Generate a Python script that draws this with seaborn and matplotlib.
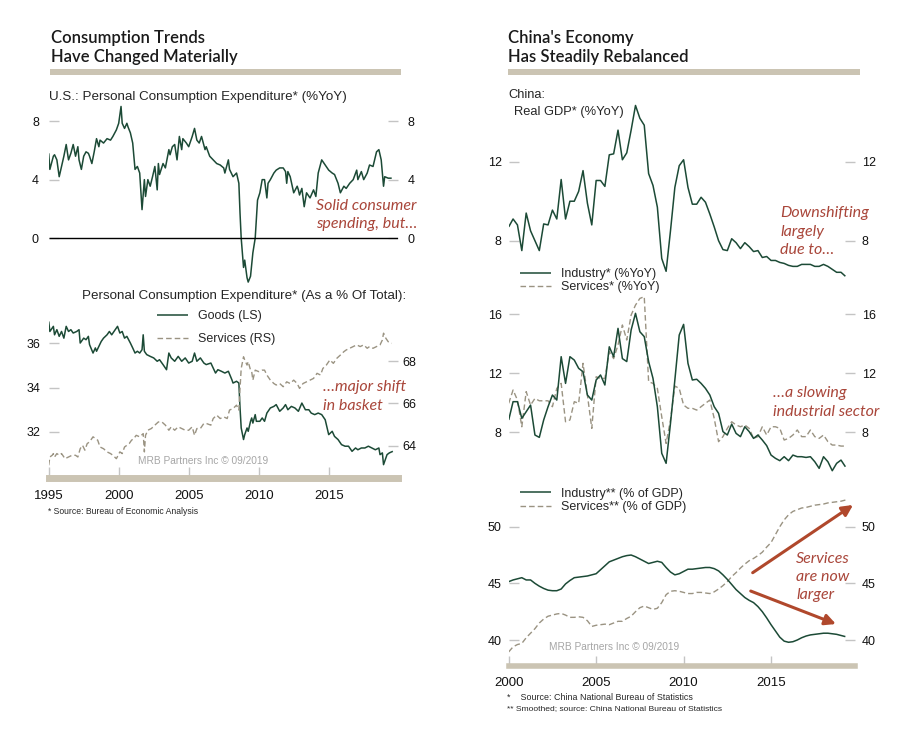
import numpy as np
import pandas as pd
import matplotlib.pyplot as plt
import seaborn as sns

W, H = 911, 749
GREEN = '#1c4a36'
TAN = '#9a9382'
BAR = '#cbc4b3'
TICK = '#c4c4c4'
RED = '#a9463a'
ARROW = '#b0482c'
WMARK = '#a6a6a6'

# ---- U.S. PCE %YoY (months since Jan 1995, value)
pce_month = [0, 1, 4, 5, 7, 9, 11, 13, 15, 17, 19, 21, 23, 25, 26, 28, 30, 32, 34, 35,
             37, 39, 41, 43, 44, 47, 50, 53, 55, 58, 60, 62, 63, 65, 67, 68, 70, 72, 74, 76,
             78, 80, 82, 83, 85, 87, 89, 91, 93, 94, 95, 98, 100, 103, 104, 106, 108, 110, 112, 114,
             115, 118, 120, 123, 125, 127, 129, 131, 134, 135, 138, 141, 144, 147, 150, 151, 154, 155, 158, 161,
             163, 164, 165, 167, 168, 170, 171, 173, 175, 177, 179, 181, 183, 185, 187, 188, 190, 193, 195, 198,
             201, 203, 204, 205, 207, 210, 213, 214, 215, 217, 219, 221, 224, 227, 229, 231, 234, 237, 240, 243,
             245, 248, 250, 253, 255, 258, 261, 264, 265, 268, 270, 273, 275, 278, 281, 283, 285, 287, 288, 291, 294]
pce_yoy = [5.8, 4.7, 5.6, 5.7, 5.35, 4.2, 4.9, 5.6, 6.4, 5.35, 5.8, 6.4, 5.6, 6.25, 5.35, 4.7, 5.6, 5.9, 5.8, 5.6,
           5.1, 5.9, 6.8, 6.25, 6.7, 6.5, 6.8, 6.7, 6.95, 7.4, 7.85, 9.0, 7.85, 7.5, 7.85, 7.6, 7.2, 6.5, 4.7, 4.9,
           4.45, 1.95, 4.0, 2.85, 4.0, 3.55, 4.2, 4.9, 3.3, 5.1, 4.35, 5.1, 4.8, 6.05, 5.7, 6.25, 6.4, 5.35, 6.95, 6.05,
           6.8, 6.5, 6.25, 6.95, 7.5, 6.7, 6.5, 6.95, 6.05, 6.25, 5.6, 5.35, 5.1, 5.0, 4.8, 4.45, 5.35, 4.7, 4.2, 4.45,
           3.75, 1.7, 0.0, -2.0, -1.5, -2.7, -3.0, -2.6, -1.0, 0.0, 2.6, 3.1, 4.0, 4.0, 2.75, 3.75, 4.0, 4.45, 4.65, 4.8,
           4.8, 4.55, 3.75, 4.55, 4.2, 3.1, 3.55, 3.3, 2.95, 3.4, 2.15, 3.1, 2.75, 3.3, 2.85, 4.45, 5.35, 5.0, 4.65, 4.45,
           4.35, 3.75, 3.1, 3.55, 3.4, 3.75, 4.0, 4.65, 4.0, 4.55, 4.0, 4.45, 5.0, 4.9, 5.9, 6.05, 5.35, 3.55, 4.2, 4.1, 4.1]

# ---- U.S. PCE shares (% of total)
goods_month = [0, 1, 4, 5, 7, 9, 11, 13, 15, 17, 19, 21, 24, 26, 27, 30, 32, 34, 35, 38,
               40, 41, 43, 45, 47, 50, 52, 54, 57, 59, 61, 63, 65, 67, 70, 72, 74, 76, 78, 80,
               81, 82, 84, 87, 90, 93, 95, 98, 101, 103, 105, 108, 111, 114, 117, 120, 123, 125, 127, 130,
               133, 135, 139, 143, 145, 148, 151, 154, 157, 158, 161, 163, 164, 165, 167, 168, 170, 171, 173, 174,
               175, 177, 178, 181, 183, 185, 187, 190, 193, 195, 198, 201, 203, 205, 208, 211, 214, 217, 220, 223,
               225, 228, 231, 234, 237, 240, 243, 245, 248, 251, 254, 257, 260, 263, 265, 268, 271, 274, 277, 280,
               283, 284, 286, 287, 290, 292, 295]
goods_share = [36.97, 36.52, 36.75, 36.37, 36.6, 36.3, 36.52, 36.22, 36.75, 36.52, 36.6, 36.45, 36.52, 36.6, 36.0, 36.22, 36.15, 36.3, 35.93, 35.55,
               35.78, 35.63, 35.85, 36.07, 36.22, 36.37, 36.52, 36.37, 36.6, 36.75, 36.45, 36.52, 36.22, 36.3, 36.0, 35.78, 35.55, 35.63, 35.55, 35.7,
               36.37, 35.63, 35.48, 35.4, 35.33, 35.18, 35.25, 35.03, 34.8, 35.55, 35.33, 35.18, 35.4, 35.18, 35.33, 35.1, 35.18, 35.55, 35.18, 35.33,
               35.1, 35.03, 35.1, 34.65, 34.8, 34.73, 34.65, 34.73, 34.35, 34.2, 34.28, 34.2, 33.08, 32.18, 31.66, 31.88, 32.18, 32.03, 32.48, 32.63,
               32.4, 32.78, 32.48, 32.48, 32.63, 32.48, 32.85, 33.08, 33.15, 33.23, 32.93, 33.08, 33.23, 33.0, 33.15, 33.08, 32.93, 33.3, 33.0, 33.0,
               32.85, 32.78, 32.85, 32.78, 32.55, 31.88, 32.03, 31.8, 31.66, 31.43, 31.36, 31.36, 31.13, 31.28, 31.2, 31.28, 31.28, 31.36, 31.28, 31.2,
               31.28, 30.98, 31.06, 30.53, 30.98, 31.06, 31.13]
serv_month = [0, 1, 3, 4, 5, 7, 9, 11, 14, 17, 20, 23, 25, 27, 29, 31, 33, 35, 38, 40,
              42, 44, 47, 50, 53, 55, 58, 61, 63, 65, 67, 69, 71, 73, 75, 78, 81, 82, 83, 85,
              88, 91, 94, 97, 100, 103, 105, 108, 111, 114, 117, 120, 123, 125, 127, 130, 133, 135, 139, 141,
              144, 147, 150, 153, 155, 158, 161, 163, 164, 165, 167, 168, 170, 171, 173, 174, 175, 177, 180, 183,
              185, 187, 190, 193, 195, 198, 201, 204, 207, 210, 213, 215, 218, 221, 224, 227, 230, 233, 235, 238,
              241, 244, 247, 250, 253, 255, 258, 261, 264, 267, 270, 273, 275, 278, 281, 284, 286, 287, 289, 291, 294]
serv_share = [63.09, 63.48, 63.56, 63.64, 63.48, 63.64, 63.56, 63.64, 63.4, 63.48, 63.56, 63.56, 63.48, 63.87, 64.03, 63.8, 64.11, 64.19, 64.43, 64.35,
              64.27, 63.95, 63.87, 63.72, 63.64, 63.56, 63.4, 63.72, 63.64, 63.95, 64.03, 64.11, 64.27, 64.35, 64.5, 64.43, 64.58, 63.72, 64.5, 64.74,
              64.82, 64.98, 65.13, 65.13, 64.98, 64.74, 64.9, 64.74, 64.9, 64.82, 64.74, 64.74, 64.9, 64.5, 64.82, 64.82, 65.06, 65.06, 64.98, 65.29,
              65.45, 65.29, 65.37, 65.29, 65.69, 65.76, 65.92, 65.69, 66.71, 67.65, 68.2, 68.05, 67.81, 67.97, 67.57, 67.5, 67.1, 67.57, 67.5, 67.57,
              67.57, 67.34, 67.1, 66.94, 66.87, 66.94, 66.79, 67.02, 66.94, 67.1, 66.94, 66.71, 66.94, 67.02, 67.1, 67.18, 67.42, 67.34, 67.65, 67.81,
              68.05, 67.89, 68.13, 68.28, 68.44, 68.52, 68.6, 68.68, 68.76, 68.68, 68.76, 68.6, 68.68, 68.6, 68.68, 68.76, 68.99, 69.31, 69.07, 68.91, 68.83]

# ---- China, quarterly from 2000Q1
gdp_yoy = [8.7, 9.1, 8.8, 7.5, 9.4, 8.5, 8.0, 7.5, 8.85, 8.8,
           9.55, 9.1, 11.1, 9.1, 10.0, 10.0, 10.5, 11.55, 9.9, 8.8,
           11.05, 11.05, 10.75, 12.35, 12.4, 13.6, 12.1, 12.45, 13.6, 14.85,
           14.2, 13.85, 11.4, 10.8, 9.7, 7.1, 6.45, 8.5, 10.7, 11.8,
           12.1, 10.7, 9.85, 9.85, 10.2, 9.95, 9.35, 8.7, 8.0, 7.55,
           7.5, 8.1, 7.9, 7.6, 7.9, 7.7, 7.45, 7.5, 7.15, 7.2,
           7.0, 7.0, 6.9, 6.85, 6.75, 6.7, 6.7, 6.8, 6.8, 6.8,
           6.7, 6.7, 6.8, 6.7, 6.55, 6.4, 6.4, 6.2]
ind_yoy = [8.84, 10.08, 10.08, 8.95, 9.4, 9.85, 7.82, 7.66, 8.84, 9.74,
           10.53, 10.19, 13.13, 11.32, 13.13, 12.9, 12.34, 12.11, 10.53, 10.19,
           11.55, 11.89, 11.21, 13.8, 13.13, 15.05, 13.0, 12.8, 14.94, 16.07,
           14.82, 14.49, 12.8, 11.66, 9.74, 6.58, 5.9, 8.61, 11.55, 14.6,
           15.32, 12.68, 11.55, 11.6, 11.32, 10.98, 10.53, 9.74, 9.29, 8.05,
           7.82, 8.56, 7.93, 7.71, 8.38, 8.05, 7.59, 7.82, 7.48, 7.1,
           6.46, 6.24, 6.08, 6.35, 6.08, 6.46, 6.35, 6.35, 6.3, 6.35,
           6.01, 5.56, 6.35, 6.01, 5.4, 5.9, 6.12, 5.67]
srv_yoy = [9.97, 10.87, 10.19, 8.38, 10.76, 9.85, 10.3, 10.14, 10.14, 10.14,
           9.74, 10.98, 11.32, 8.72, 8.84, 10.08, 9.97, 12.68, 10.53, 8.27,
           11.77, 11.66, 11.66, 13.47, 13.0, 13.92, 15.28, 14.26, 15.95, 16.63,
           17.08, 17.2, 11.43, 11.32, 10.98, 9.06, 7.25, 8.84, 11.14, 10.98,
           9.85, 9.63, 9.63, 9.51, 9.74, 9.97, 10.19, 8.95, 7.37, 7.71,
           8.27, 8.72, 8.5, 8.38, 8.5, 8.27, 7.59, 7.71, 8.38, 7.82,
           8.38, 8.38, 8.27, 7.48, 7.59, 7.82, 8.16, 7.71, 7.71, 8.16,
           7.71, 7.59, 7.82, 7.37, 7.14, 7.14, 7.07, 7.07]
ind_share = [45.15, 45.3, 45.4, 45.5, 45.3, 45.3, 45.0, 44.75, 44.55, 44.4,
             44.35, 44.35, 44.5, 44.95, 45.25, 45.5, 45.55, 45.6, 45.65, 45.75,
             45.85, 46.2, 46.55, 46.9, 47.05, 47.2, 47.35, 47.45, 47.5, 47.35,
             47.15, 46.95, 46.75, 46.85, 46.95, 46.85, 46.4, 46.0, 45.75, 45.85,
             46.05, 46.25, 46.25, 46.3, 46.35, 46.4, 46.4, 46.3, 46.1, 45.75,
             45.35, 44.9, 44.45, 44.1, 43.75, 43.5, 43.3, 42.95, 42.5, 41.95,
             41.35, 40.8, 40.25, 39.9, 39.8, 39.85, 40.0, 40.2, 40.35, 40.45,
             40.5, 40.55, 40.6, 40.6, 40.55, 40.5, 40.4, 40.3]
srv_share = [38.95, 39.4, 39.6, 39.7, 40.2, 40.6, 41.0, 41.5, 41.85, 42.1,
             42.2, 42.3, 42.35, 42.2, 42.0, 42.0, 42.05, 42.0, 41.7, 41.2,
             41.3, 41.35, 41.4, 41.35, 41.5, 41.65, 41.65, 41.9, 42.1, 42.5,
             42.85, 43.0, 42.85, 42.7, 42.8, 43.3, 44.0, 44.3, 44.35, 44.3,
             44.2, 44.1, 44.1, 44.2, 44.2, 44.15, 44.1, 44.25, 44.5, 44.8,
             45.15, 45.6, 45.95, 46.35, 46.7, 47.0, 47.2, 47.45, 47.75, 48.2,
             48.6, 49.3, 50.0, 50.6, 51.05, 51.35, 51.5, 51.65, 51.7, 51.8,
             51.9, 51.95, 52.0, 52.1, 52.15, 52.2, 52.25, 52.35]

us_years = [1995, 2000, 2005, 2010, 2015]
cn_years = [2000, 2005, 2010, 2015]

pce = pd.DataFrame({'date': 1995 + np.array(pce_month) / 12, 'value': pce_yoy})
goods = pd.DataFrame({'date': 1995 + np.array(goods_month) / 12, 'value': goods_share})
serv = pd.DataFrame({'date': 1995 + np.array(serv_month) / 12, 'value': serv_share})
q = 2000 + np.arange(len(gdp_yoy)) * 0.25
china = pd.DataFrame({'date': q, 'gdp': gdp_yoy, 'ind': ind_yoy, 'srv': srv_yoy,
                      'ind_sh': ind_share, 'srv_sh': srv_share})

sns.set_style('white')
plt.rcParams['font.family'] = ['Liberation Sans', 'DejaVu Sans']
plt.rcParams['lines.solid_capstyle'] = 'butt'

fig = plt.figure(figsize=(W / 100, H / 100), dpi=100)
DASH = (0, (4, 2.2))


def add_ax(x0, y0, x1, y1):
    ax = fig.add_axes([x0 / W, 1 - y1 / H, (x1 - x0) / W, (y1 - y0) / H])
    ax.patch.set_alpha(0)
    for s in ax.spines.values():
        s.set_visible(False)
    return ax


def ftext(x, y, s, **kw):
    kw.setdefault('va', 'center')
    fig.text(x / W, 1 - y / H, s, **kw)


def yticks(ax, ticks, left=True, right=True, pad=6):
    ax.set_yticks(ticks)
    ax.set_yticklabels([str(t) for t in ticks])
    ax.tick_params(axis='y', direction='in', length=7, width=1, color=TICK,
                   left=left, right=right, labelleft=left, labelright=right,
                   labelsize=9, labelcolor='#111111', pad=pad)
    ax.set_xlabel('')
    ax.set_ylabel('')


def no_x(ax):
    ax.tick_params(axis='x', bottom=False, labelbottom=False)


def x_bar(ax, years, lw, pad):
    ax.spines['bottom'].set_visible(True)
    ax.spines['bottom'].set_color(BAR)
    ax.spines['bottom'].set_linewidth(lw)
    ax.set_xticks(years)
    ax.set_xticklabels([str(y) for y in years])
    ax.tick_params(axis='x', direction='in', length=lw / 2 + 5.5, width=1, color=TICK,
                   bottom=True, labelbottom=True, labelsize=9.5, pad=pad, labelcolor='#111111')


def legend(ax, handles, labels, x, y, spacing):
    ax.legend(handles, labels, loc='upper left', bbox_to_anchor=(x / W, 1 - y / H),
              bbox_transform=fig.transFigure, frameon=False, fontsize=9,
              handlelength=2.5, handletextpad=0.75, borderpad=0, borderaxespad=0,
              labelspacing=spacing)


# ================= left: U.S. =================
ax1 = add_ax(48.7, 105, 398, 285)
sns.lineplot(data=pce, x='date', y='value', ax=ax1, color=GREEN, linewidth=1.1)
ax1.axhline(0, color='black', linewidth=1)
ax1.set_xlim(1995, 2019.95)
ax1.set_ylim(-3.2, 9.1)
yticks(ax1, [0, 4, 8], pad=7)
no_x(ax1)

ax2 = add_ax(48.7, 285, 398, 478)
sns.lineplot(data=goods, x='date', y='value', ax=ax2, color=GREEN, linewidth=1.1)
ax2.set_xlim(1995, 2019.95)
ax2.set_ylim(29.93, 38.61)
yticks(ax2, [32, 34, 36], right=False, pad=6)
x_bar(ax2, us_years, 5, 8.5)
ax2b = ax2.twinx()
ax2b.patch.set_alpha(0)
for s in ax2b.spines.values():
    s.set_visible(False)
sns.lineplot(data=serv, x='date', y='value', ax=ax2b, color=TAN, linewidth=1.0, linestyle=DASH)
ax2b.set_ylim(62.49, 71.58)
ax2b.set_yticks([64, 66, 68])
ax2b.tick_params(axis='y', direction='in', length=7, width=1, color=TICK, right=True,
                 labelright=True, labelsize=9, pad=3, labelcolor='#111111')
ax2b.set_ylabel('')
legend(ax2b, [ax2.get_lines()[0], ax2b.get_lines()[0]], ['Goods (LS)', 'Services (RS)'], 157, 310, 0.9)

# ================= right: China =================
ax3 = add_ax(508.7, 95, 855, 280)
sns.lineplot(data=china, x='date', y='gdp', ax=ax3, color=GREEN, linewidth=1.1)
ax3.set_xlim(2000, 2019.8)
ax3.set_ylim(6.01, 15.38)
yticks(ax3, [8, 12], pad=5)
no_x(ax3)

ax4 = add_ax(508.7, 285, 855, 480)
sns.lineplot(data=china, x='date', y='srv', ax=ax4, color=TAN, linewidth=1.0, linestyle=DASH)
sns.lineplot(data=china, x='date', y='ind', ax=ax4, color=GREEN, linewidth=1.1)
ax4.set_xlim(2000, 2019.8)
ax4.set_ylim(4.77, 17.99)
yticks(ax4, [8, 12, 16], pad=5)
no_x(ax4)
l_srv, l_ind = ax4.get_lines()[0], ax4.get_lines()[1]
legend(ax4, [l_ind, l_srv], ['Industry* (%YoY)', 'Services* (%YoY)'], 520, 268, 0.1)

ax5 = add_ax(508.7, 485, 855, 665.5)
sns.lineplot(data=china, x='date', y='srv_sh', ax=ax5, color=TAN, linewidth=1.0, linestyle=DASH)
sns.lineplot(data=china, x='date', y='ind_sh', ax=ax5, color=GREEN, linewidth=1.1)
ax5.set_xlim(2000, 2019.8)
ax5.set_ylim(37.75, 53.68)
yticks(ax5, [40, 45, 50], pad=5)
x_bar(ax5, cn_years, 4, 8)
legend(ax5, [ax5.get_lines()[1], ax5.get_lines()[0]],
       ['Industry** (% of GDP)', 'Services** (% of GDP)'], 520, 487.5, 0.15)

for (x0, y0), (x1, y1) in [((2013.95, 45.94), (2019.69, 51.92)),
                           ((2013.84, 44.32), (2018.71, 41.41))]:
    ax5.annotate('', xy=(x1, y1), xytext=(x0, y0),
                 arrowprops=dict(arrowstyle='-|>', color=ARROW, lw=2.2,
                                 mutation_scale=16, shrinkA=0, shrinkB=0))

# ================= text =================
title_kw = dict(fontsize=12, fontweight='semibold', color='#1a1a1a',
                family=['Lato', 'DejaVu Sans'], ha='left')
ftext(51, 38, 'Consumption Trends', **title_kw)
ftext(51, 57, 'Have Changed Materially', **title_kw)
ftext(508, 38, "China's Economy", **title_kw)
ftext(508, 57, 'Has Steadily Rebalanced', **title_kw)
for x0, x1 in [(50, 401), (508, 860)]:
    fig.patches.append(plt.Rectangle((x0 / W, 1 - 74.5 / H), (x1 - x0) / W, 6 / H,
                                     transform=fig.transFigure, color=BAR, lw=0))

ftext(49, 97, 'U.S.: Personal Consumption Expenditure* (%YoY)', fontsize=9.6, ha='left')
ftext(82, 296, 'Personal Consumption Expenditure* (As a % Of Total):', fontsize=9.6, ha='left')
ftext(508, 95, 'China:', fontsize=9.3, ha='left')
ftext(514, 112, 'Real GDP* (%YoY)', fontsize=9.3, ha='left')

ftext(138, 461, 'MRB Partners Inc \u00a9 09/2019', fontsize=7.3, color=WMARK, ha='left')
ftext(549, 647, 'MRB Partners Inc \u00a9 09/2019', fontsize=7.3, color=WMARK, ha='left')

ftext(48, 511, '* Source: Bureau of Economic Analysis', fontsize=6.2, ha='left')
ftext(507, 697, '*    Source: China National Bureau of Statistics', fontsize=6.4, ha='left')
ftext(507, 709, '** Smoothed; source: China National Bureau of Statistics', fontsize=6.1, ha='left')

ann_kw = dict(fontsize=11.5, style='italic', color=RED, family=['Lato', 'DejaVu Sans'])
ftext(417, 206, 'Solid consumer', ha='right', **ann_kw)
ftext(417, 224, 'spending, but\u2026', ha='right', **ann_kw)
ftext(323, 387, '\u2026major shift', ha='left', **ann_kw)
ftext(323, 406, 'in basket', ha='left', **ann_kw)
ftext(780, 213, 'Downshifting', ha='left', **ann_kw)
ftext(780, 232, 'largely', ha='left', **ann_kw)
ftext(780, 250, 'due to\u2026', ha='left', **ann_kw)
ftext(773, 393, '\u2026a slowing', ha='left', **ann_kw)
ftext(773, 412, 'industrial sector', ha='left', **ann_kw)
ftext(796, 559, 'Services', ha='left', **ann_kw)
ftext(796, 577, 'are now', ha='left', **ann_kw)
ftext(796, 595, 'larger', ha='left', **ann_kw)

fig.savefig('out.png', dpi=100)
